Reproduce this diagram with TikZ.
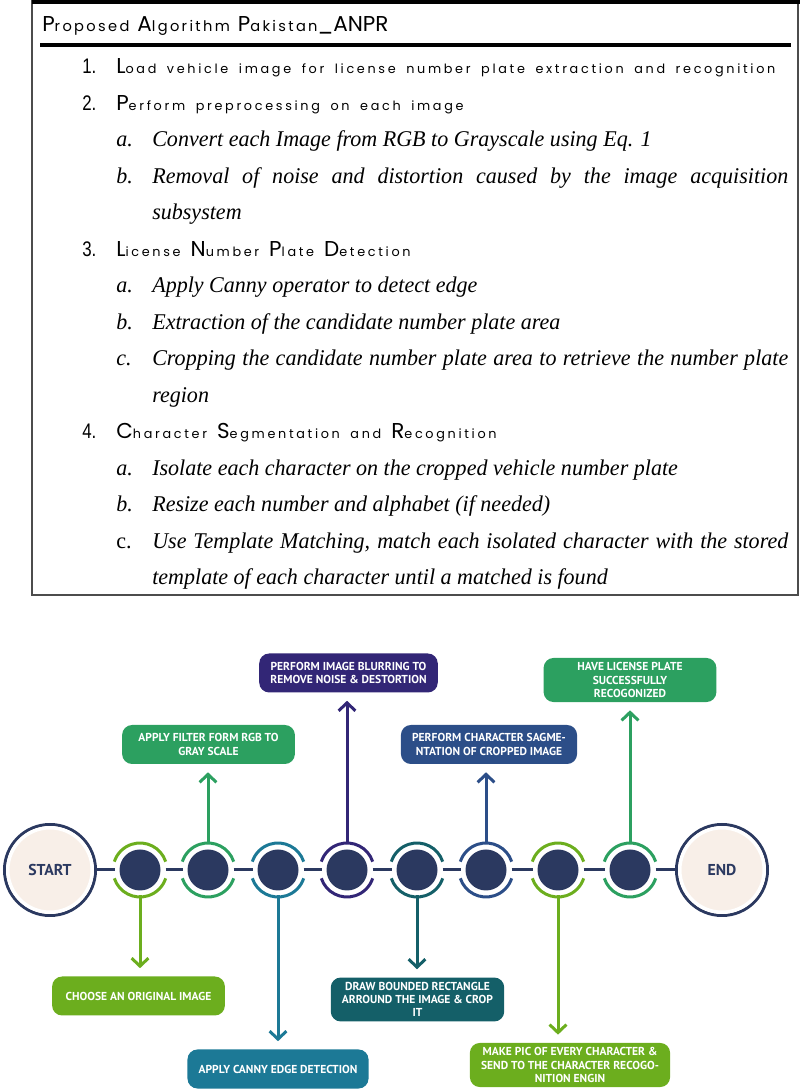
\documentclass[tikz,border=0pt]{standalone}
\usepackage{fontspec}
\usepackage{xcolor}
\usepackage{tikz}
\usetikzlibrary{arrows.meta}

\setmainfont{Liberation Serif}
\newfontfamily\stepfont[FakeStretch=0.98]{Liberation Serif}
\newfontfamily\headfont{Poppins}
\newfontfamily\numfont[FakeStretch=0.8]{Liberation Sans}
\newfontfamily\boxfont{PT Sans}

\definecolor{navy}{RGB}{43,57,96}
\definecolor{beige}{RGB}{248,239,232}
\definecolor{lime}{RGB}{108,174,30}
\definecolor{leaf}{RGB}{44,160,96}
\definecolor{sea}{RGB}{28,121,150}
\definecolor{plum}{RGB}{50,38,118}
\definecolor{pine}{RGB}{20,95,104}
\definecolor{steel}{RGB}{44,78,136}

% heading words: tall initial, small spaced rest
\newcommand{\hcap}[1]{{\fontsize{15.3}{18}\selectfont #1}}
\newcommand{\hlow}[1]{{\fontsize{9.1}{12}\selectfont\addfontfeature{LetterSpace=21}\spaceskip=7.5pt #1}}
\newcommand{\tlow}[1]{{\fontsize{10.4}{12}\selectfont\addfontfeature{LetterSpace=16}#1}}
\newcommand{\hgap}{\hspace{0.2cm}}
\newcommand{\igap}{\hspace{0.25cm}}

\begin{document}
\begin{tikzpicture}[
        num/.style={anchor=base west, inner sep=0, font=\numfont\fontsize{15}{18}\selectfont},
        head/.style={anchor=base west, inner sep=0, font=\headfont},
        sub/.style={anchor=base west, inner sep=0, font=\stepfont\itshape\fontsize{16}{19}\selectfont},
        endpt/.style={circle, draw=navy, line width=0.075cm, fill=beige, minimum size=2.275cm, inner sep=0,
            text=navy, font=\boxfont\bfseries\fontsize{11.2}{13}\selectfont},
        dot/.style={circle, fill=navy, minimum size=1.025cm, inner sep=0, outer sep=0.125cm},
        ring/.style={line width=0.075cm},
        link/.style={navy, line width=0.075cm},
        arrow/.style={line width=0.075cm, -{Straight Barb[length=0.2cm, width=0.42cm]}, shorten >=0.2cm},
        stepbox/.style={rounded corners=0.25cm, text=white, align=center, minimum width=4.32cm,
            minimum height=0.975cm, inner xsep=0.28cm, inner ysep=3.4pt,
            font=\boxfont\bfseries\fontsize{8.2}{9.3}\selectfont}]
        \useasboundingbox (0,0) rectangle (20,27.25);

        % Algorithm frame
        \draw[gray!60!black, line width=0.04cm] (0.8,27.25) -- (0.8,12.375) -- (19.95,12.375) -- (19.95,27.25);
        \fill (0.8,27.25) rectangle (20,27.15);
        \draw[line width=0.1cm] (1.0,26.125) -- (19.78,26.125);
        \draw (1.05,26.45) node[head] (title)
            {\hcap{P}\tlow{roposed}\hgap\hcap{A}\tlow{lgorithm}\hgap\hcap{P}\tlow{akistan}\hcap{\_ANPR}};

        % Steps
        \draw (2.05,25.4) node[num] (n1) {1.};
        \draw (2.9,25.4) node[head] (h1) {\hcap{L}\hlow{oad vehicle image for license number plate extraction and recognition}};
        \draw (2.05,24.4875) node[num] (n2) {2.};
        \draw (2.9,24.4875) node[head] (h2) {\hcap{P}\hlow{erform preprocessing on each image}};
        \draw (2.9,23.575) node[sub] (l2a) {a.};
        \draw (3.8,23.575) node[sub] (s2a) {Convert each Image from RGB to Grayscale using Eq. 1};
        \draw (2.9,22.6625) node[sub] (l2b) {b.};
        \draw (3.8,22.6625) node[sub] (s2b) {\makebox[15.9cm][s]{Removal of noise and distortion caused by the image acquisition}};
        \draw (3.8,21.75) node[sub] (s2c) {subsystem};

        \draw (2.05,20.8375) node[num] (n3) {3.};
        \draw (2.9,20.8375) node[head] (h3) {\hcap{L}\hlow{icense}\igap\hcap{N}\hlow{umber}\igap\hcap{P}\hlow{late}\igap\hcap{D}\hlow{etection}};
        \draw (2.9,19.925) node[sub] (l3a) {a.};
        \draw (3.8,19.925) node[sub] (s3a) {Apply Canny operator to detect edge};
        \draw (2.9,19.0125) node[sub] (l3b) {b.};
        \draw (3.8,19.0125) node[sub] (s3b) {Extraction of the candidate number plate area};
        \draw (2.9,18.1) node[sub] (l3c) {c.};
        \draw (3.8,18.1) node[sub] (s3c) {\makebox[15.9cm][s]{Cropping the candidate number plate area to retrieve the number plate}};
        \draw (3.8,17.1875) node[sub] (s3d) {region};

        \draw (2.05,16.275) node[num] (n4) {4.};
        \draw (2.9,16.275) node[head] (h4) {\hcap{C}\hlow{haracter}\igap\hcap{S}\hlow{egmentation and}\igap\hcap{R}\hlow{ecognition}};
        \draw (2.9,15.3625) node[sub] (l4a) {a.};
        \draw (3.8,15.3625) node[sub] (s4a) {Isolate each character on the cropped vehicle number plate};
        \draw (2.9,14.45) node[sub] (l4b) {b.};
        \draw (3.8,14.45) node[sub] (s4b) {Resize each number and alphabet (if needed)};
        \draw (2.9,13.5375) node[sub, font=\stepfont\fontsize{16}{19}\selectfont] (l4c) {c.};
        \draw (3.8,13.5375) node[sub] (s4c) {\makebox[15.9cm][s]{Use Template Matching, match each isolated character with the stored}};
        \draw (3.8,12.625) node[sub] (s4d) {template of each character until a matched is found};

        % Timeline
        \node[endpt] (start) at (1.25,5.5) {START};
        \node[endpt] (end) at (18.05,5.5) {END};
        \foreach \n in {start,end}
            \draw[white, line width=0.0875cm] (\n.center) circle (1.056);
        \foreach \i/\x/\col in {1/3.5/lime, 2/5.2/leaf, 3/6.95/sea, 4/8.675/plum,
                                5/10.425/pine, 6/12.15/steel, 7/13.95/lime, 8/15.75/leaf} {
            \node[dot] (c\i) at (\x,5.5) {};
            \draw[ring, \col] (c\i.center) ++(18:0.675) arc (18:162:0.675);
            \draw[ring, \col] (c\i.center) ++(198:0.675) arc (198:342:0.675);
        }
        \draw[link] (start) -- (c1);
        \foreach \i/\j in {1/2, 2/3, 3/4, 4/5, 5/6, 6/7, 7/8}
            \draw[link] (c\i) -- (c\j);
        \draw[link] (c8) -- (end);

        % Step boxes
        \node[stepbox, fill=lime] (b1) at (3.4625,2.35) {CHOOSE AN ORIGINAL IMAGE};
        \node[stepbox, fill=leaf] (b2) at (5.2125,8.6375) {APPLY FILTER FORM RGB TO\\GRAY SCALE};
        \node[stepbox, fill=sea] (b3) at (6.95,0.525) {APPLY CANNY EDGE DETECTION};
        \node[stepbox, fill=plum] (b4) at (8.7125,10.425) {PERFORM IMAGE BLURRING TO\\REMOVE NOISE \& DESTORTION};
        \node[stepbox, fill=pine] (b5) at (10.4375,2.2625) {DRAW BOUNDED RECTANGLE\\ARROUND THE IMAGE \& CROP\\IT};
        \node[stepbox, fill=steel] (b6) at (12.225,8.6375) {PERFORM CHARACTER SAGME-\\NTATION OF CROPPED IMAGE};
        \node[stepbox, fill=lime] (b7) at (14.25,0.625) {MAKE PIC OF EVERY CHARACTER \&\\SEND TO THE CHARACTER RECOGO-\\NITION ENGIN};
        \node[stepbox, fill=leaf] (b8) at (15.75,10.25) {HAVE LICENSE PLATE\\SUCCESSFULLY\\RECOGONIZED};

        \draw[arrow, lime] (c1) -- (c1 |- b1.north);
        \draw[arrow, leaf] (c2) -- (c2 |- b2.south);
        \draw[arrow, sea] (c3) -- (c3 |- b3.north);
        \draw[arrow, plum] (c4) -- (c4 |- b4.south);
        \draw[arrow, pine] (c5) -- (c5 |- b5.north);
        \draw[arrow, steel] (c6) -- (c6 |- b6.south);
        \draw[arrow, lime] (c7) -- (c7 |- b7.north);
        \draw[arrow, leaf] (c8) -- (c8 |- b8.south);
    \end{tikzpicture}
\end{document}
